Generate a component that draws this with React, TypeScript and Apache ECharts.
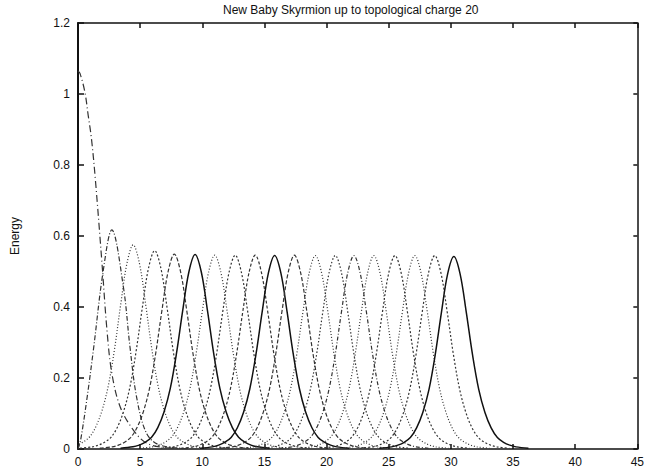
import React, { useEffect, useRef } from "react";
import * as echarts from "echarts";

// ---- Data ----
const TITLE = "New Baby Skyrmion up to topological charge 20";
const Y_NAME = "Energy";

// Curve 1: the decaying profile starting near x = 0
const DECAY_X = [0, 0.16, 0.55, 0.82, 1.08, 1.4, 1.93, 2.33, 2.72, 3.39, 4.44, 5.5, 7, 9];
const DECAY_Y = [1.065, 1.058, 1.006, 0.94, 0.875, 0.758, 0.523, 0.335, 0.214, 0.119, 0.054, 0.017, 0.004, 0.001];

// Curve 2: first lump, read point by point
const LUMP2_X = [0, 0.21, 0.74, 1.27, 2.0, 2.72, 3.65, 4.18, 4.71, 5.5, 6.5, 8.5];
const LUMP2_Y = [0.0, 0.025, 0.147, 0.288, 0.495, 0.617, 0.457, 0.288, 0.147, 0.045, 0.012, 0.002];

// Remaining lumps: peak position and peak height
const PEAK_X = [4.44, 6.17, 7.75, 9.42, 11.0, 12.65, 14.26, 15.82, 17.41, 19.1, 20.7, 22.2, 23.8, 25.5, 27.1, 28.7, 30.24];
const PEAK_Y = [0.575, 0.559, 0.549, 0.548, 0.546, 0.546, 0.546, 0.545, 0.546, 0.545, 0.545, 0.545, 0.545, 0.545, 0.545, 0.545, 0.542];

const PROFILE_DX = [-6, -5, -4.5, -4, -3.5, -3, -2.5, -2, -1.5, -1, -0.5, 0, 0.5, 1, 1.5, 2, 2.5, 3, 3.5, 4, 4.5, 5, 6];
const PROFILE_F = [0.004, 0.011, 0.02, 0.035, 0.06, 0.11, 0.19, 0.31, 0.49, 0.71, 0.91, 1, 0.91, 0.71, 0.49, 0.31, 0.19, 0.11, 0.06, 0.035, 0.02, 0.011, 0.004];

// Line styles for each curve in order (solid / dashed / dotted / dash-dot)
const DASHES: (string | number[])[] = [
  [7, 3, 1, 3],
  [5, 2, 1, 2],
  [1, 2],
  [2, 2],
  [4, 2],
  "solid",
  [1, 2],
  [2, 2],
  [3, 2],
  "solid",
  [4, 2],
  [1, 2],
  [1.5, 2],
  [4, 2, 1, 2],
  [1, 2],
  [2, 2],
  [1, 2],
  [2, 2],
  "solid",
];

export default function App() {
  const ref = useRef<HTMLDivElement>(null);
  useEffect(() => {
    document.body.style.margin = "0";
    if (!ref.current) return;
    const chart = echarts.init(ref.current, null, { renderer: "svg" });

    const curves: number[][][] = [];
    curves.push(DECAY_X.map((x, i) => [x, DECAY_Y[i]]));
    curves.push(LUMP2_X.map((x, i) => [x, LUMP2_Y[i]]));
    PEAK_X.forEach((c, k) => {
      curves.push(PROFILE_DX.map((d, i) => [c + d, PEAK_Y[k] * PROFILE_F[i]]));
    });

    const series = curves.map((data, i) => {
      const dash = DASHES[i % DASHES.length];
      const solid = dash === "solid";
      return {
        type: "line" as const,
        data,
        xAxisIndex: 0,
        yAxisIndex: 0,
        showSymbol: false,
        symbol: "none",
        smooth: 0.35,
        clip: true,
        silent: true,
        lineStyle: {
          color: solid ? "#111" : "#333",
          width: solid ? 1.5 : 1.2,
          type: solid ? "solid" : (dash as number[]),
        },
      };
    });

    const labelStyle = {
      color: "#111",
      fontSize: 12,
      fontFamily: "Liberation Sans, Arial, sans-serif",
    };
    const lineSt = { color: "#111", width: 1.5 };

    chart.setOption({
      animation: false,
      backgroundColor: "#fff",
      title: {
        text: TITLE,
        left: 223,
        top: 4,
        padding: 0,
        textStyle: {
          color: "#111",
          fontSize: 12,
          fontWeight: "normal",
          fontFamily: "Liberation Sans, Arial, sans-serif",
        },
      },
      grid: { left: 78, right: 4, top: 23, bottom: 24, containLabel: false },
      xAxis: [
        {
          type: "value",
          min: 0,
          max: 45,
          interval: 5,
          position: "bottom",
          axisLine: { show: true, onZero: false, lineStyle: lineSt },
          axisTick: { show: true, inside: true, length: 5, lineStyle: lineSt },
          axisLabel: { ...labelStyle, margin: 7 },
          splitLine: { show: false },
        },
        {
          type: "value",
          min: 0,
          max: 45,
          interval: 5,
          position: "top",
          axisLine: { show: true, onZero: false, lineStyle: lineSt },
          axisTick: { show: true, inside: true, length: 5, lineStyle: lineSt },
          axisLabel: { show: false },
          splitLine: { show: false },
        },
      ],
      yAxis: [
        {
          type: "value",
          min: 0,
          max: 1.2,
          interval: 0.2,
          position: "left",
          name: Y_NAME,
          nameLocation: "middle",
          nameRotate: 90,
          nameGap: 57,
          nameTextStyle: labelStyle,
          axisLine: { show: true, onZero: false, lineStyle: { color: "#111", width: 2 } },
          axisTick: { show: true, inside: true, length: 6, lineStyle: lineSt },
          axisLabel: { ...labelStyle, margin: 8 },
          splitLine: { show: false },
        },
        {
          type: "value",
          min: 0,
          max: 1.2,
          interval: 0.2,
          position: "right",
          axisLine: { show: true, onZero: false, lineStyle: lineSt },
          axisTick: { show: true, inside: true, length: 4, lineStyle: lineSt },
          axisLabel: { show: false },
          splitLine: { show: false },
        },
      ],
      series,
    });

    return () => chart.dispose();
  }, []);

  return <div ref={ref} style={{ width: 647, height: 473 }} />;
}
